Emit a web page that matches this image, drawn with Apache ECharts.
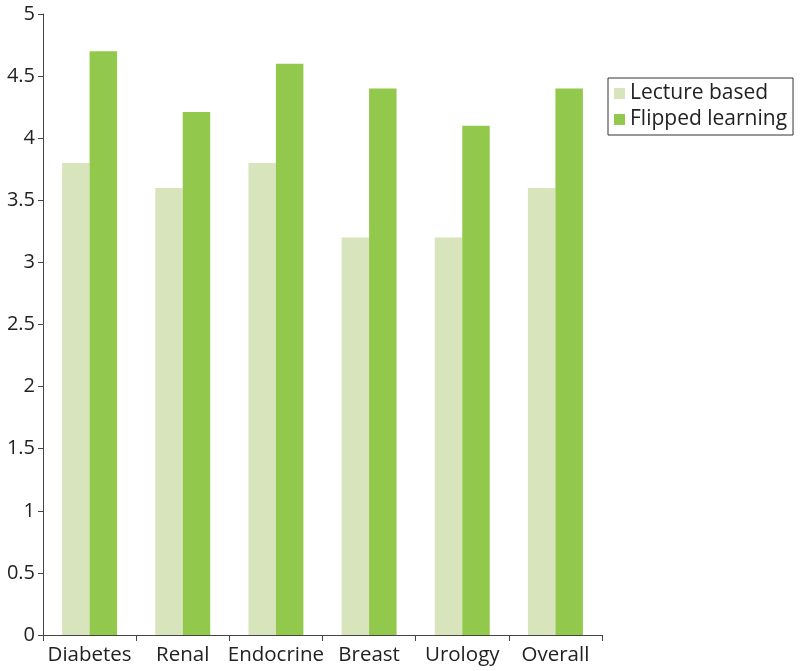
<!DOCTYPE html>
<html>
<head>
<meta charset="utf-8">
<script src="https://cdn.jsdelivr.net/npm/echarts@6/dist/echarts.min.js"></script>
<style>
  html, body { margin: 0; padding: 0; background: #fff; }
  #chart { width: 800px; height: 671px; }
</style>
</head>
<body>
<div id="chart"></div>
<script>
// 数据
const categories = ['Diabetes', 'Renal', 'Endocrine', 'Breast', 'Urology', 'Overall'];
const lectureBased = [3.8, 3.6, 3.8, 3.2, 3.2, 3.6];
const flippedLearning = [4.7, 4.21, 4.6, 4.4, 4.1, 4.4];

const dom = document.getElementById('chart');
const myChart = echarts.init(dom);
const fontName = "'Open Sans', sans-serif";

const option = {
    backgroundColor: '#fff',
    animation: false,
    legend: {
        orient: 'vertical',
        left: 608,
        top: 78,
        borderColor: '#333',
        borderWidth: 1,
        padding: [5, 6, 5, 6],
        itemGap: 5,
        itemWidth: 11,
        itemHeight: 11,
        icon: 'rect',
        textStyle: { fontSize: 21, color: '#222', fontFamily: fontName },
        data: ['Lecture based', 'Flipped learning']
    },
    grid: {
        left: 43,
        right: 198,
        top: 14,
        bottom: 36
    },
    xAxis: {
        type: 'category',
        data: categories,
        axisLine: { lineStyle: { color: '#444', width: 1 } },
        axisTick: { show: true, length: 6, lineStyle: { color: '#444' } },
        axisLabel: { fontSize: 20.5, color: '#222', fontFamily: fontName, margin: 10, interval: 0 }
    },
    yAxis: {
        type: 'value',
        min: 0,
        max: 5,
        interval: 0.5,
        axisLine: { show: true, lineStyle: { color: '#444', width: 1 } },
        axisTick: { show: true, length: 5, lineStyle: { color: '#444' } },
        splitLine: { show: false },
        axisLabel: { fontSize: 20, color: '#222', fontFamily: fontName, margin: 8 }
    },
    series: [
        {
            name: 'Lecture based',
            type: 'bar',
            data: lectureBased,
            barWidth: '29.5%',
            barGap: '0%',
            itemStyle: { color: '#d7e4bc' }
        },
        {
            name: 'Flipped learning',
            type: 'bar',
            data: flippedLearning,
            barWidth: '29.5%',
            itemStyle: { color: '#92c84b' }
        }
    ]
};

myChart.setOption(option);
</script>
</body>
</html>
